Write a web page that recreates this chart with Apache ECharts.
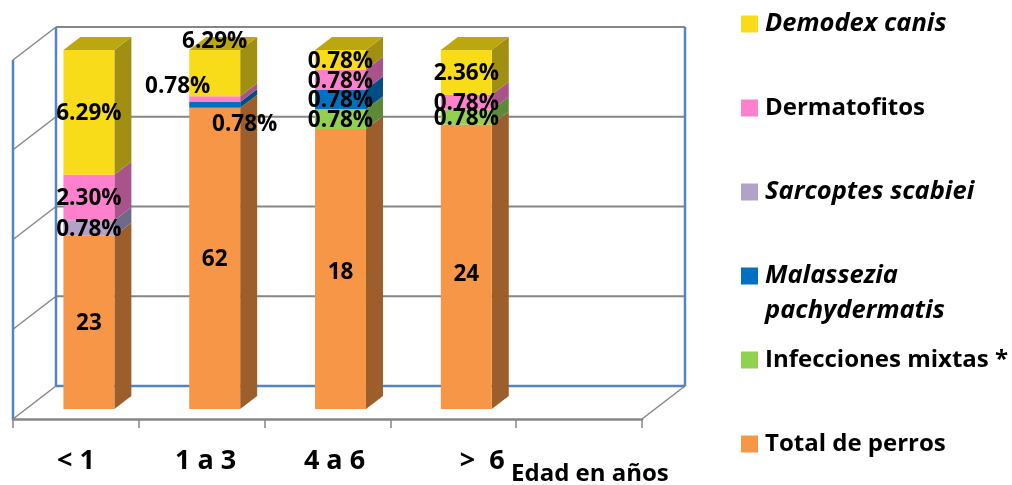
<!DOCTYPE html>
<html lang="es">
<head>
<meta charset="utf-8">
<title>Dermatosis por edad</title>
<style>html,body{margin:0;padding:0;background:#fff}#chart{width:1012px;height:485px}</style>
<script src="https://cdn.jsdelivr.net/npm/echarts@6/dist/echarts.min.js"></script>
</head>
<body>
<div id="chart"></div>
<script>
// Categories and values
const ageGroups = ['< 1', '1 a 3', '4 a 6', '>  6', ''];
const totalPerros = [23, 62, 18, 24];
const mixtas = [0, 0, 0.78, 0.78];
const malassezia = [0, 0.78, 0.78, 0];
const sarcoptes = [0.78, 0, 0, 0];
const dermatofitos = [2.30, 0.78, 0.78, 0.78];
const demodex = [6.29, 6.29, 0.78, 2.36];
const wallTicks = [0, 25, 50, 75, 100];

// Percentages refer to all dogs in the study; each column spans its own age group.
const allDogs = totalPerros.reduce((a, b) => a + b, 0);
const toDogs = pct => pct * allDogs / 100;

const FONT = '"Open Sans", sans-serif';
const LABEL_SIZE = 22.5;
const LEGEND_SIZE = 24;
const LEGEND_ITALIC_SIZE = 25.5;
const WALL_DEPTH = [43, -33];
const BAR_PLANE = [13, -10];
const BAR_DEPTH = [17, -13];
const BAR_WIDTH_SHARE = 0.405;
const LABEL_DROP = 1.5;
const GREY = '#868686';
const BLUE = '#5585BE';

// Nudges applied to the labels that would otherwise collide: [column] -> [dx, dy]
const labelNudges = {
  demodex: {1: [0, -33]},
  dermatofitos: {1: [-37, -14]},
  malassezia: {1: [30, 18]},
  total: {3: [0, 6], 2: [0, 2]}
};

const stacks = [
  {key: 'total', name: 'Total de perros', color: '#F79646', side: '#9C5F2C', italic: false},
  {key: 'mixtas', name: 'Infecciones mixtas *', values: mixtas, color: '#92D050', side: '#5D8A3A', italic: false},
  {key: 'malassezia', name: 'Malassezia pachydermatis', values: malassezia, color: '#0070C0', side: '#004E85', italic: true},
  {key: 'sarcoptes', name: 'Sarcoptes scabiei', values: sarcoptes, color: '#B3A2C7', side: '#6E6A8A', italic: true},
  {key: 'dermatofitos', name: 'Dermatofitos', values: dermatofitos, color: '#FF80CC', side: '#A8548A', italic: false},
  {key: 'demodex', name: 'Demodex canis', values: demodex, color: '#F8DC1A', side: '#A08F12', top: '#BCA711', italic: true}
];

function segmentsFor(stack) {
  return totalPerros.map((total, i) => {
    const below = stacks.slice(1, stacks.indexOf(stack)).reduce((s, o) => s + toDogs(o.values[i]), 0);
    const infected = stacks.slice(1).reduce((s, o) => s + toDogs(o.values[i]), 0);
    const base = stack.key === 'total' ? 0 : total - infected + below;
    const amount = stack.key === 'total' ? total - infected : toDogs(stack.values[i]);
    return [i, base / total * 100, (base + amount) / total * 100];
  });
}

function poly(points, fill) {
  return {type: 'polygon', shape: {points}, style: {fill, stroke: null}};
}

function barSeries(stack) {
  return {
    type: 'custom',
    name: stack.name,
    color: stack.color,
    coordinateSystem: 'cartesian2d',
    encode: {x: 0, y: [1, 2]},
    data: segmentsFor(stack),
    clip: false,
    silent: true,
    renderItem(params, api) {
      const i = api.value(0), v0 = api.value(1), v1 = api.value(2);
      if (v1 - v0 <= 0) return null;
      const w = api.size([1, 0])[0] * BAR_WIDTH_SHARE;
      const p0 = api.coord([i, v0]), p1 = api.coord([i, v1]);
      const xl = p0[0] + BAR_PLANE[0] - w / 2, xr = xl + w;
      const yb = p0[1] + BAR_PLANE[1], yt = p1[1] + BAR_PLANE[1];
      const [dx, dy] = BAR_DEPTH;
      const children = [
        poly([[xr, yb], [xr + dx, yb + dy], [xr + dx, yt + dy], [xr, yt]], stack.side),
        poly([[xl, yb], [xr, yb], [xr, yt], [xl, yt]], stack.color)
      ];
      if (stack.top) {
        children.push(poly([[xl, yt], [xr, yt], [xr + dx, yt + dy], [xl + dx, yt + dy]], stack.top));
      }
      const nudge = (labelNudges[stack.key] || {})[i] || [0, 0];
      const text = stack.key === 'total' ? String(totalPerros[i]) : stack.values[i].toFixed(2) + '%';
      children.push({
        type: 'text', z2: 20,
        style: {
          text, x: (xl + xr) / 2 + nudge[0], y: (yb + yt) / 2 + nudge[1] + LABEL_DROP,
          align: 'center', verticalAlign: 'middle', fill: '#000',
          fontFamily: FONT, fontWeight: 'bold', fontSize: LABEL_SIZE
        }
      });
      return {type: 'group', children};
    }
  };
}

// Back wall, side wall and their gridlines, projected from the front plane of the grid.
const wallSeries = {
  type: 'custom',
  name: 'paredes',
  coordinateSystem: 'cartesian2d',
  data: [[0, 0]],
  clip: false,
  silent: true,
  z: 0,
  renderItem(params, api) {
    const g = params.coordSys;
    const [dx, dy] = WALL_DEPTH;
    const seg = (x1, y1, x2, y2, stroke, lineWidth) => ({
      type: 'line', shape: {x1, y1, x2, y2}, style: {stroke, lineWidth}
    });
    const left = g.x, right = g.x + g.width;
    const children = [];
    wallTicks.forEach(t => {
      const y = api.coord([0, t])[1];
      children.push(seg(left, y, left + dx, y + dy, GREY, 1.5));
      if (t > 0) children.push(seg(left + dx, y + dy, right + dx, y + dy, GREY, 2.2));
    });
    const yBot = api.coord([0, 0])[1], yTop = api.coord([0, 100])[1];
    children.push(seg(right, yBot, right + dx, yBot + dy, GREY, 1.5));
    children.push(seg(left + dx, yBot + dy, right + dx, yBot + dy, BLUE, 2.5));
    children.push(seg(left + dx, yBot + dy, left + dx, yTop + dy, BLUE, 2.5));
    children.push(seg(right + dx, yBot + dy, right + dx, yTop + dy, BLUE, 2.5));
    children.push(seg(left, yBot, left, yTop, BLUE, 2.5));
    return {type: 'group', children};
  }
};

const chart = echarts.init(document.getElementById('chart'), null, {renderer: 'canvas'});
chart.setOption({
  animation: false,
  backgroundColor: '#fff',
  textStyle: {fontFamily: FONT},
  grid: {left: 13, right: 370, top: 60, bottom: 66},
  xAxis: {
    type: 'category',
    data: ageGroups.map((value, i) => ({
      value,
      textStyle: {padding: [0, 0, 0, [0, 8, 14, 58, 0][i]]}
    })),
    axisLine: {lineStyle: {color: GREY, width: 2.5}},
    axisTick: {show: true, alignWithLabel: false, length: 9, lineStyle: {color: GREY, width: 1.5}},
    axisLabel: {show: true, interval: 0, margin: 29, color: '#000', fontFamily: FONT, fontWeight: 'bold', fontSize: 27}
  },
  yAxis: {
    type: 'value', min: 0, max: 100, interval: 25,
    axisLine: {show: false}, axisTick: {show: false}, axisLabel: {show: false}, splitLine: {show: false}
  },
  legend: {
    orient: 'vertical',
    left: 741,
    top: 10,
    padding: 0,
    itemGap: 56,
    itemWidth: 17,
    itemHeight: 17,
    icon: 'rect',
    selectedMode: false,
    textStyle: {fontFamily: FONT, fontWeight: 'bold', fontSize: LEGEND_SIZE, lineHeight: 28, color: '#000', padding: [0, 0, 0, 2]},
    formatter: name => name === 'Malassezia pachydermatis' ? 'Malassezia' : name,
    data: stacks.slice().reverse().map(s => ({
      name: s.name,
      textStyle: {fontStyle: s.italic ? 'italic' : 'normal', fontWeight: 'bold', fontSize: s.italic ? LEGEND_ITALIC_SIZE : LEGEND_SIZE, fontFamily: FONT, lineHeight: 28, color: '#000'}
    }))
  },
  graphic: [
    {type: 'text', left: 765, top: 298, style: {text: 'pachydermatis', fontFamily: FONT, fontWeight: 'bold', fontStyle: 'italic', fontSize: LEGEND_ITALIC_SIZE, fill: '#000'}},
    {type: 'text', left: 511, top: 462, style: {text: 'Edad en años', fontFamily: FONT, fontWeight: 'bold', fontSize: 24, fill: '#000'}}
  ],
  series: [wallSeries].concat(stacks.map(barSeries))
});
</script>
</body>
</html>
